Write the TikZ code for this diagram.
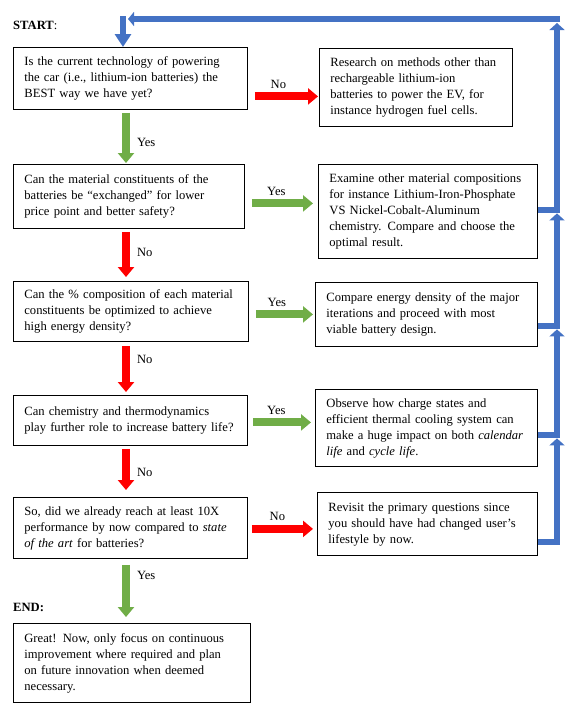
\documentclass[tikz,border=0pt]{standalone}
\usepackage{fontspec}
\setmainfont{Liberation Serif}
\usetikzlibrary{calc,arrows.meta}

\definecolor{noRed}{HTML}{FF0000}
\definecolor{yesGreen}{HTML}{70AD47}
\definecolor{backBlue}{HTML}{4472C4}
\definecolor{backEdge}{HTML}{8FAADC}

\tikzset{
  qbox/.style={draw, line width=0.8pt, anchor=north west, align=left, inner xsep=11pt, inner ysep=0pt, font=\fontsize{12.6}{16}\selectfont},
  lbl/.style={font=\fontsize{12.6}{16}\selectfont, inner sep=1pt},
  yesarrow/.style={draw=yesGreen, line width=8pt, -{Triangle[width=16pt,length=10pt]}},
  noarrow/.style={draw=noRed, line width=8pt, -{Triangle[width=16pt,length=10pt]}},
  backarrow/.style={draw=backBlue, line width=6pt, -{Triangle[width=15pt,length=7pt]}}
}

\begin{document}
\begin{tikzpicture}[x=1pt,y=-1pt]
\useasboundingbox (0,0) rectangle (573,712);

% Start and end
\node[lbl, anchor=west] (start) at (12,25) {\textbf{START}:};
\node[lbl, anchor=west] (stop) at (12,607) {\textbf{END:}};

% Questions
\node[qbox, text width=212pt, minimum height=62pt] (q1) at (13,47) {
\begin{tabular}{@{}l@{}}
        Is the current technology of powering\\
        the car (i.e., lithium-ion batteries) the\\
        BEST way we have yet?
    \end{tabular}
};
\node[qbox, text width=209pt, minimum height=64pt] (q2) at (13,164) {
\begin{tabular}{@{}l@{}}
        Can the material constituents of the\\
        batteries be “exchanged” for lower\\
        price point and better safety?
    \end{tabular}
};
\node[qbox, text width=213pt, minimum height=60pt] (q3) at (13,281) {
\begin{tabular}{@{}l@{}}
        Can the \% composition of each material\\
        constituents be optimized to achieve\\
        high energy density?
    \end{tabular}
};
\node[qbox, text width=212pt, minimum height=50pt] (q4) at (13,395) {
\begin{tabular}{@{}l@{}}
        Can chemistry and thermodynamics\\
        play further role to increase battery life?
    \end{tabular}
};
\node[qbox, text width=212pt, minimum height=61pt] (q5) at (13,497) {
\begin{tabular}{@{}l@{}}
        So, did we already reach at least 10X\\
        performance by now compared to \textit{state}\\
        \textit{of the art} for batteries?
    \end{tabular}
};
\node[qbox, text width=215pt, minimum height=79pt] (fin) at (13,623) {
\begin{tabular}{@{}l@{}}
        Great! Now, only focus on continuous\\
        improvement where required and plan\\
        on future innovation when deemed\\
        necessary.
    \end{tabular}
};

% Actions
\node[qbox, text width=171pt, minimum height=78pt] (r1) at (319,48) {
\begin{tabular}{@{}l@{}}
        Research on methods other than\\
        rechargeable lithium-ion\\
        batteries to power the EV, for\\
        instance hydrogen fuel cells.
    \end{tabular}
};
\node[qbox, text width=197pt, minimum height=94pt] (r2) at (318,164) {
\begin{tabular}{@{}l@{}}
        Examine other material compositions\\
        for instance Lithium-Iron-Phosphate\\
        VS Nickel-Cobalt-Aluminum\\
        chemistry. Compare and choose the\\
        optimal result.
    \end{tabular}
};
\node[qbox, text width=200pt, minimum height=64pt] (r3) at (315,282) {
\begin{tabular}{@{}l@{}}
        Compare energy density of the major\\
        iterations and proceed with most\\
        viable battery design.
    \end{tabular}
};
\node[qbox, text width=200pt, minimum height=77pt] (r4) at (315,389) {
\begin{tabular}{@{}l@{}}
        Observe how charge states and\\
        efficient thermal cooling system can\\
        make a huge impact on both \textit{calendar}\\
        \textit{life} and \textit{cycle life}.
    \end{tabular}
};
\node[qbox, text width=198pt, minimum height=63pt] (r5) at (317,492) {
\begin{tabular}{@{}l@{}}
        Revisit the primary questions since\\
        you should have had changed user’s\\
        lifestyle by now.
    \end{tabular}
};

% Down the questions
\coordinate (col) at (126,0);
\draw[yesarrow, shorten <=3pt, shorten >=1pt] (q1.south -| col) -- (q2.north -| col) node[lbl, pos=0.6, anchor=west, xshift=6pt] {Yes};
\draw[noarrow, shorten <=3pt, shorten >=4pt] (q2.south -| col) -- (q3.north -| col) node[lbl, pos=0.46, anchor=west, xshift=6pt] {No};
\draw[noarrow, shorten <=4pt, shorten >=3pt] (q3.south -| col) -- (q4.north -| col) node[lbl, pos=0.34, anchor=west, xshift=6pt] {No};
\draw[noarrow, shorten <=3pt, shorten >=7pt] (q4.south -| col) -- (q5.north -| col) node[lbl, pos=0.52, anchor=west, xshift=6pt] {No};
\draw[yesarrow, shorten <=6pt, shorten >=6pt] (q5.south -| col) -- (fin.north -| col) node[lbl, pos=0.26, anchor=west, xshift=6pt] {Yes};

% Across to the actions
\draw[noarrow, shorten <=7pt, shorten >=1pt] ([yshift=-18pt]q1.east) -- ([yshift=-18pt]q1.east -| r1.west) node[lbl, midway, anchor=base, xshift=-5pt, yshift=8pt] {No};
\draw[yesarrow, shorten <=7pt, shorten >=5pt] ([yshift=-7pt]q2.east) -- ([yshift=-7pt]q2.east -| r2.west) node[lbl, midway, anchor=base, xshift=-5pt, yshift=8pt] {Yes};
\draw[yesarrow, shorten <=7pt, shorten >=2pt] ([yshift=-3pt]q3.east) -- ([yshift=-3pt]q3.east -| r3.west) node[lbl, midway, anchor=base, xshift=-5pt, yshift=8pt] {Yes};
\draw[yesarrow, shorten <=5pt, shorten >=4pt] ([yshift=-2pt]q4.east) -- ([yshift=-2pt]q4.east -| r4.west) node[lbl, midway, anchor=base, xshift=-5pt, yshift=8pt] {Yes};
\draw[noarrow, shorten <=4pt, shorten >=4pt] ([yshift=-1pt]q5.east) -- ([yshift=-1pt]q5.east -| r5.west) node[lbl, midway, anchor=base, xshift=-5pt, yshift=8pt] {No};

% Back to the start
\coordinate (rail) at (557,19);
\coordinate (topl) at (123,19);
\coordinate (x2) at ([yshift=1pt]r2.east);
\coordinate (x3) at ([yshift=-12pt]r3.east);
\coordinate (x4) at ([yshift=-7.5pt]r4.east);
\coordinate (x5) at ([yshift=-18pt]r5.east);

\draw[backarrow] (x5) -| ($(x4 -| rail)+(0,3)$);
\draw[backarrow] (x4) -| ($(x3 -| rail)+(0,3)$);
\draw[backarrow] (x3) -| ($(x2 -| rail)+(0,3)$);
\draw[backarrow] (x2) -| ($(rail)+(0,4)$);
\draw[backarrow, -{Triangle[width=14pt,length=6pt]}] ($(rail)+(3,0)$) -- ($(topl)+(5,0)$);
\draw[backarrow, -{Triangle[width=16pt,length=13pt]}] ($(topl)+(0,-3)$) -- (topl |- q1.north);
\end{tikzpicture}
\end{document}
